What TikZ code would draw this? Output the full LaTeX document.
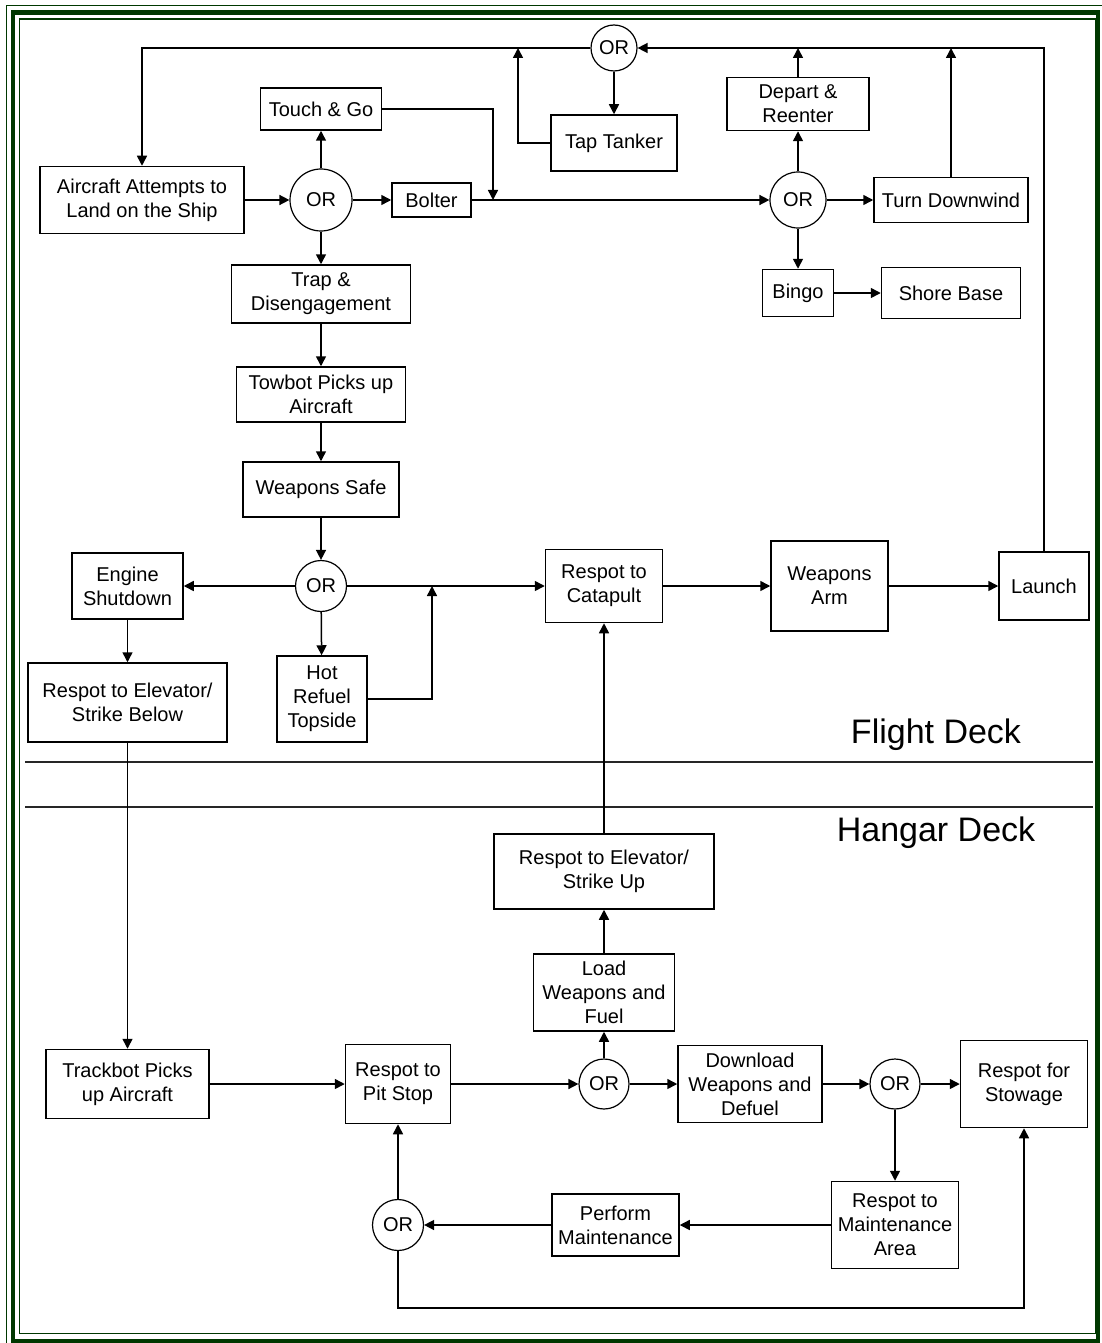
\documentclass[tikz,border=0pt]{standalone}
\usepackage{fontspec}
\setmainfont{Liberation Sans}
\usepackage{xcolor}
\usepackage{tikz}
\usetikzlibrary{arrows.meta}
\usetikzlibrary{calc}

\definecolor{framegreen}{RGB}{0,56,0}

\tikzset{
  blk/.style={draw, line width=1.5pt, align=center, inner sep=0pt, font=\fontsize{20}{24}\selectfont},
  orgate/.style={draw, circle, line width=1.2pt, inner sep=0pt, minimum size=50pt, font=\fontsize{20}{24}\selectfont},
  flow/.style={line width=1.5pt, -{Triangle[length=10pt,width=10pt]}},
  deckline/.style={line width=1.2pt, black!85},
  decklabel/.style={font=\fontsize{34}{40}\selectfont},
}

\begin{document}
\begin{tikzpicture}[x=1pt,y=-1pt]
\useasboundingbox (0,0) rectangle (1101,1343);
% frame
\draw [framegreen,line width=1.5pt] (6.5,5.5) rectangle (1130,1360);
\draw [framegreen,line width=4.5pt] (13,12.5) rectangle (1098,1341);
\draw [framegreen,line width=1.5pt] (19.5,19) rectangle (1096,1333.5);

% flight deck
\node [orgate,minimum size=46] (ortop) at (614,48) {OR};
\node [blk,minimum width=126,minimum height=56] (tanker) at (614,143) {Tap Tanker};
\node [blk,minimum width=142,minimum height=53] (depart) at (798,104) {Depart \&\\Reenter};
\node [blk,minimum width=121,minimum height=42] (touch) at (321,109) {Touch \& Go};
\node [blk,minimum width=204,minimum height=67] (air) at (142,200) {Aircraft Attempts to\\Land on the Ship};
\node [orgate,minimum size=62] (orland) at (321,200) {OR};
\node [blk,minimum width=79,minimum height=34] (bolter) at (431.5,200) {Bolter};
\node [orgate,minimum size=56] (orbolt) at (798,200) {OR};
\node [blk,minimum width=154,minimum height=45] (downwind) at (951,200) {Turn Downwind};
\node [blk,minimum width=71,minimum height=47] (bingo) at (798,293) {Bingo};
\node [blk,minimum width=139,minimum height=51] (shore) at (951,293) {Shore Base};
\node [blk,minimum width=179,minimum height=58] (trap) at (321,294) {Trap \&\\Disengagement};
\node [blk,minimum width=169,minimum height=55] (towbot) at (321,394.5) {Towbot Picks up\\Aircraft};
\node [blk,minimum width=156,minimum height=55] (wsafe) at (321,489.5) {Weapons Safe};
\node [orgate,minimum size=51] (orsafe) at (321,586) {OR};
\node [blk,minimum width=111,minimum height=66] (engine) at (127.5,586) {Engine\\Shutdown};
\node [blk,minimum width=199,minimum height=79] (strikedn) at (127.5,702.5) {Respot to Elevator/\\Strike Below};
\node [blk,minimum width=90,minimum height=86] (hot) at (322,699) {Hot\\Refuel\\Topside};
\node [blk,minimum width=117,minimum height=73] (catapult) at (604,586) {Respot to\\Catapult};
\node [blk,minimum width=117,minimum height=90] (warm) at (829.5,586) {Weapons\\Arm};
\node [blk,minimum width=90,minimum height=68] (launch) at (1044,586) {Launch};
\node [decklabel] (fdeck) at (936,735) {Flight Deck};

\draw [deckline] (25,762) -- (1093,762);
\draw [deckline] (25,807) -- (1093,807);

% hangar deck
\node [decklabel] (hdeck) at (936,833) {Hangar Deck};
\node [blk,minimum width=220,minimum height=75] (strikeup) at (604,871.5) {Respot to Elevator/\\Strike Up};
\node [blk,minimum width=141,minimum height=77] (load) at (604,992.5) {Load\\Weapons and\\Fuel};
\node [blk,minimum width=163,minimum height=69] (trackbot) at (127.5,1084) {Trackbot Picks\\up Aircraft};
\node [blk,minimum width=105,minimum height=79] (pitstop) at (398,1084) {Respot to\\Pit Stop};
\node [orgate] (orpit) at (604,1084) {OR};
\node [blk,minimum width=144,minimum height=77] (download) at (750,1084) {Download\\Weapons and\\Defuel};
\node [orgate] (orstow) at (895,1084) {OR};
\node [blk,minimum width=127,minimum height=87] (stowage) at (1024,1084) {Respot for\\Stowage};
\node [blk,minimum width=127,minimum height=87] (maintarea) at (895,1225) {Respot to\\Maintenance\\Area};
\node [blk,minimum width=127,minimum height=62] (perform) at (615.5,1225) {Perform\\Maintenance};
\node [orgate,minimum size=51] (orback) at (398,1225) {OR};

\coordinate (touchdrop) at (493,200);
\coordinate (tanktop) at (518,48);
\coordinate (hotjoin) at (432,586);
\coordinate (loopcorner) at (1024,1308);

% straight connectors
\foreach \a/\b in {air/orland, orland/bolter, orland/touch, orland/trap, trap/towbot,
    towbot/wsafe, wsafe/orsafe, bolter/orbolt, orbolt/depart, orbolt/downwind,
    orbolt/bingo, bingo/shore, ortop/tanker, orsafe/engine, orsafe/hot,
    orsafe/catapult, catapult/warm, warm/launch, engine/strikedn, strikedn/trackbot,
    trackbot/pitstop, pitstop/orpit, orpit/load, orpit/download, load/strikeup,
    strikeup/catapult, download/orstow, orstow/stowage, orstow/maintarea,
    maintarea/perform, perform/orback, orback/pitstop}
    \draw [flow] (\a) -- (\b);

% elbow connectors
\draw [flow] (launch.north) |- (ortop.east);
\draw [flow] (ortop.west) -| (air.north);
\draw [flow] (tanker.west) -| (tanktop);
\draw [flow] (depart.north) -- (depart.north |- ortop.center);
\draw [flow] (downwind.north) -- (downwind.north |- ortop.center);
\draw [flow] (touch.east) -| (touchdrop);
\draw [flow] (hot.east) -| (hotjoin);
\draw [flow] (orback.south) |- (loopcorner) -- (stowage.south);
\end{tikzpicture}
\end{document}
